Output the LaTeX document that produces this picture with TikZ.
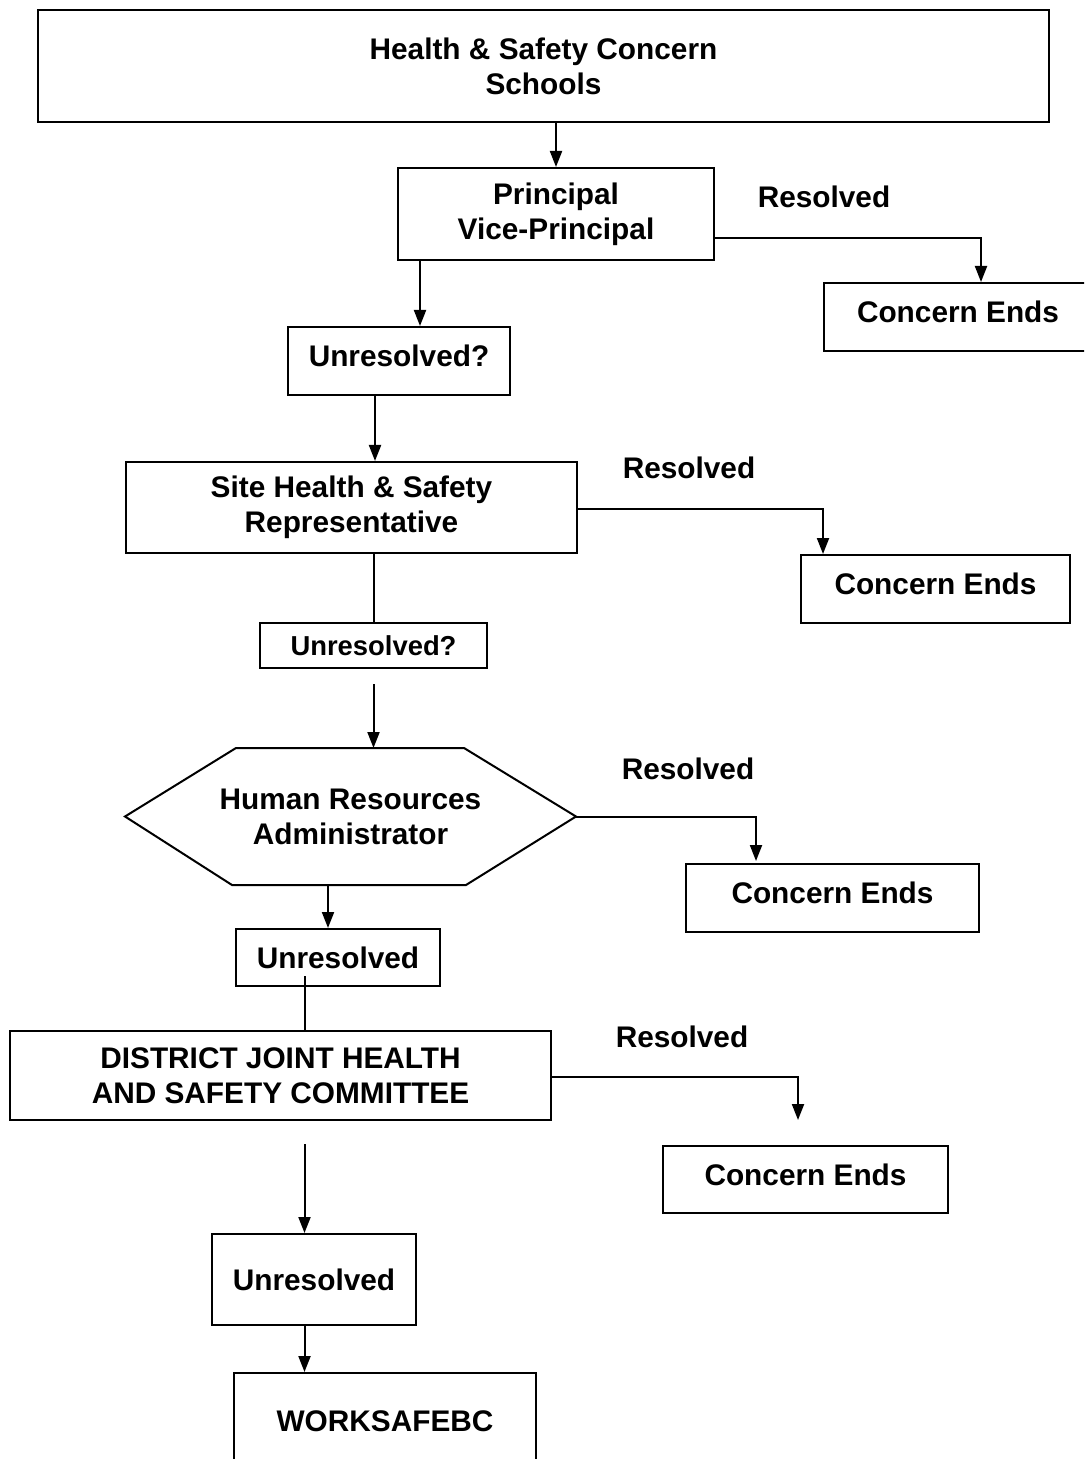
\documentclass[tikz,border=0pt]{standalone}
\usepackage{fontspec}
\setmainfont{Liberation Sans}
\usetikzlibrary{positioning}
\usetikzlibrary{arrows.meta}
\usetikzlibrary{calc}

\tikzset{
  flowbox/.style={draw, line width=1pt, inner sep=0pt, align=center,
    font=\bfseries\fontsize{14.9}{17.5}\selectfont},
  endbox/.style={flowbox, text depth=5pt},
  lbl/.style={inner sep=0pt, font=\bfseries\fontsize{14.9}{17.5}\selectfont},
  arr/.style={line width=1pt, -{Triangle[length=8pt,width=6pt]}},
  link/.style={line width=1pt}
}

\begin{document}
\begin{tikzpicture}[x=0.5pt,y=-0.5pt]
\useasboundingbox (0,0) rectangle (1084,1459);
\clip (0,0) rectangle (1084,1459);

\node[flowbox, minimum width=505.5pt, minimum height=56pt] (top) at (543.5,66) {Health \& Safety Concern\\Schools};
\node[flowbox, minimum width=158pt, minimum height=46pt] (pr) at (556,214) {Principal\\Vice-Principal};
\node[endbox, minimum width=134pt, minimum height=34pt] (ce1) at (958,317) {Concern Ends};
\node[endbox, minimum width=111pt, minimum height=34pt] (u1) at (399,361) {Unresolved?};

\node[flowbox, minimum width=225.5pt, minimum height=45.5pt] (site) at (351.5,507.5) {Site Health \& Safety\\Representative};
\node[endbox, minimum width=134.5pt, minimum height=34pt] (ce2) at (935.5,589) {Concern Ends};
\node[flowbox, minimum width=113.5pt, minimum height=22.5pt, font=\bfseries\fontsize{13.7}{16}\selectfont] (u2) at (373.5,645.5) {Unresolved?};

\node[flowbox, draw=none, minimum width=224.5pt, minimum height=67.5pt] (hra) at (350.5,816.5) {Human Resources\\Administrator};
\draw[link] (hra.west) -- ($(hra.north west)+(111,0)$) -- ($(hra.north east)+(-112,0)$) -- (hra.east)
  -- ($(hra.south east)+(-110,0)$) -- ($(hra.south west)+(107,0)$) -- cycle;
\node[endbox, minimum width=146.5pt, minimum height=34pt] (ce3) at (832.5,898) {Concern Ends};
\node[flowbox, minimum width=102pt, minimum height=28.5pt] (u3) at (338,957.5) {Unresolved};

\node[flowbox, minimum width=270.5pt, minimum height=44.5pt] (djc) at (280.5,1075.5) {DISTRICT JOINT HEALTH\\AND SAFETY COMMITTEE};
\node[endbox, minimum width=142.5pt, minimum height=33.5pt] (ce4) at (805.5,1179.5) {Concern Ends};
\node[flowbox, minimum width=102pt, minimum height=45.5pt] (u4) at (314,1279.5) {Unresolved};
\node[flowbox, minimum width=151pt, minimum height=48.5pt] (ws) at (385,1421.5) {WORKSAFEBC};

\node[lbl] (res1) at (824,197) {Resolved};
\node[lbl] (res2) at (689,468) {Resolved};
\node[lbl] (res3) at (688,769) {Resolved};
\node[lbl] (res4) at (682,1037) {Resolved};

\coordinate (k1) at (981,238);
\coordinate (k2) at (420,290);
\coordinate (k3) at (375,430);
\coordinate (k4) at (823,509);
\coordinate (k5) at (756,817);
\coordinate (k6) at (328,900);
\coordinate (k7) at (304.5,1000);
\coordinate (k8) at (798,1077);

\draw[arr] (top.south -| pr.north) -- (pr.north);
\draw[arr] (pr.east |- k1) -| (ce1.north -| k1);
\draw[arr] (pr.south -| k2) -- (u1.north -| k2);
\draw[arr] (u1.south -| k3) -- (site.north -| k3);

\draw[arr] (site.east |- k4) -| (ce2.north -| k4);
\draw[link] (site.south -| u2.north) -- (u2.north);
\draw[arr, shorten <=7.5pt] (u2.south) -- (u2.south |- hra.north);

\draw[arr, shorten >=1pt] (hra.east) -| (ce3.north -| k5);
\draw[arr] (hra.south -| k6) -- (u3.north -| k6);
\draw[link, shorten <=-5.5pt] (u3.south -| k7) -- (djc.north -| k7);

\draw[arr, shorten >=12.5pt] (djc.east |- k8) -| (ce4.north -| k8);
\draw[arr, shorten <=11.5pt] (djc.south -| k7) -- (u4.north -| k7);
\draw[arr] (u4.south -| k7) -- (ws.north -| k7);
\end{tikzpicture}
\end{document}
